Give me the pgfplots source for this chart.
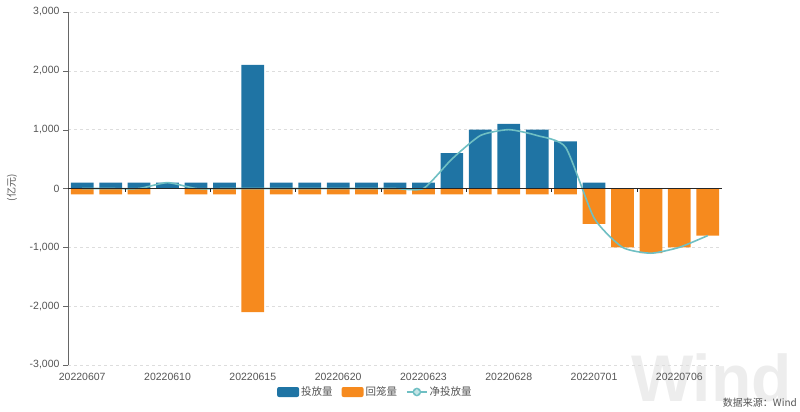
\documentclass[border=0pt]{standalone}
\usepackage{pgfplots}
\pgfplotsset{compat=1.18}
\usepackage{pgfplotstable}
\usepackage{fontspec}
\setmainfont{Liberation Sans}
\newfontfamily\cjk{Noto Sans CJK SC}
\definecolor{cblue}{HTML}{1F74A4}
\definecolor{corange}{HTML}{F68A1E}
\definecolor{cline}{HTML}{6FBFC3}
\definecolor{ctext}{HTML}{555555}
\definecolor{cgrid}{HTML}{DDDDDD}

\pgfplotstableread{
x inv ret net
0 100 -100 0
1 100 -100 0
2 100 -100 0
3 100 0 100
4 100 -100 0
5 100 -100 0
6 2100 -2100 0
7 100 -100 0
8 100 -100 0
9 100 -100 0
10 100 -100 0
11 100 -100 0
12 100 -100 0
13 600 -100 500
14 1000 -100 900
15 1100 -100 1000
16 1000 -100 900
17 800 -100 700
18 100 -600 -500
19 0 -1000 -1000
20 0 -1100 -1100
21 0 -1000 -1000
22 0 -800 -800
}\data

\begin{document}
\begin{tikzpicture}[x=1pt,y=1pt]
\useasboundingbox (0,0) rectangle (800,412);
\node[anchor=base east, text=black!7, font=\bfseries\fontsize{66}{66}\selectfont, inner sep=0pt] at (792,10) {Wind};
\begin{axis}[
  at={(68pt,47pt)}, anchor=south west, scale only axis,
  width=654pt, height=353pt,
  xmin=-0.5, xmax=22.5, ymin=-3000, ymax=3000,
  axis x line*=bottom, axis y line*=left,
  x axis line style={draw=none},
  y axis line style={draw=black!60, -},
  ytick={-3000,-2000,...,3000},
  ymajorgrids, grid style={dashed, cgrid},
  tick align=outside,
  y tick style={black!60},
  major tick length=5pt,
  xtick={0,3,...,21},
  xticklabels={20220607,20220610,20220615,20220620,20220623,20220628,20220701,20220706},
  x tick style={draw=none},
  tick label style={text=ctext, font=\fontsize{10.5}{12}\selectfont},
  yticklabel style={/pgf/number format/.cd, 1000 sep={,}, assume math mode=true},
  legend style={at={(axis description cs:0.47,-0.0765)}, anchor=center, draw=none, fill=none,
    legend columns=3, font=\cjk\fontsize{10.5}{12}\selectfont, text=ctext,
    /tikz/every even column/.append style={column sep=7pt}},
]
\addplot[ybar, bar width=0.8, bar shift=0pt, fill=cblue, draw=none,
  legend image code/.code={\fill[cblue, rounded corners=2pt] (0pt,-5pt) rectangle (22pt,5pt);}]
  table[x=x,y=inv]{\data};
\addlegendentry{投放量}
\addplot[ybar, bar width=0.8, bar shift=0pt, fill=corange, draw=none,
  legend image code/.code={\fill[corange, rounded corners=2pt] (0pt,-5pt) rectangle (22pt,5pt);}]
  table[x=x,y=ret]{\data};
\addlegendentry{回笼量}
\addplot[cline, line width=1.6pt, smooth, tension=0.35, no markers,
  legend image code/.code={\draw[cline, line width=1.6pt] (0pt,0pt) -- (20pt,0pt); \fill[cline] (10pt,0pt) circle (3.5pt); \fill[white!60!cline] (10pt,0pt) circle (1.8pt);}]
  table[x=x,y=net]{\data};
\addlegendentry{净投放量}
\draw[black!85, line width=0.8pt] (axis cs:-0.5,0) -- (axis cs:22.5,0);
\pgfplotsinvokeforeach{1.5,4.5,7.5,10.5,13.5,16.5,19.5}{
  \draw[black!85] (axis cs:#1,0) -- ++(0pt,-4pt);
}
\end{axis}
\node[rotate=90, text=ctext, font=\cjk\fontsize{10}{10}\selectfont] at (12,224) {(亿元)};
\node[anchor=east, text=ctext, font=\cjk\fontsize{10}{10}\selectfont, inner sep=0pt] at (797,9) {数据来源：Wind};
\end{tikzpicture}
\end{document}
